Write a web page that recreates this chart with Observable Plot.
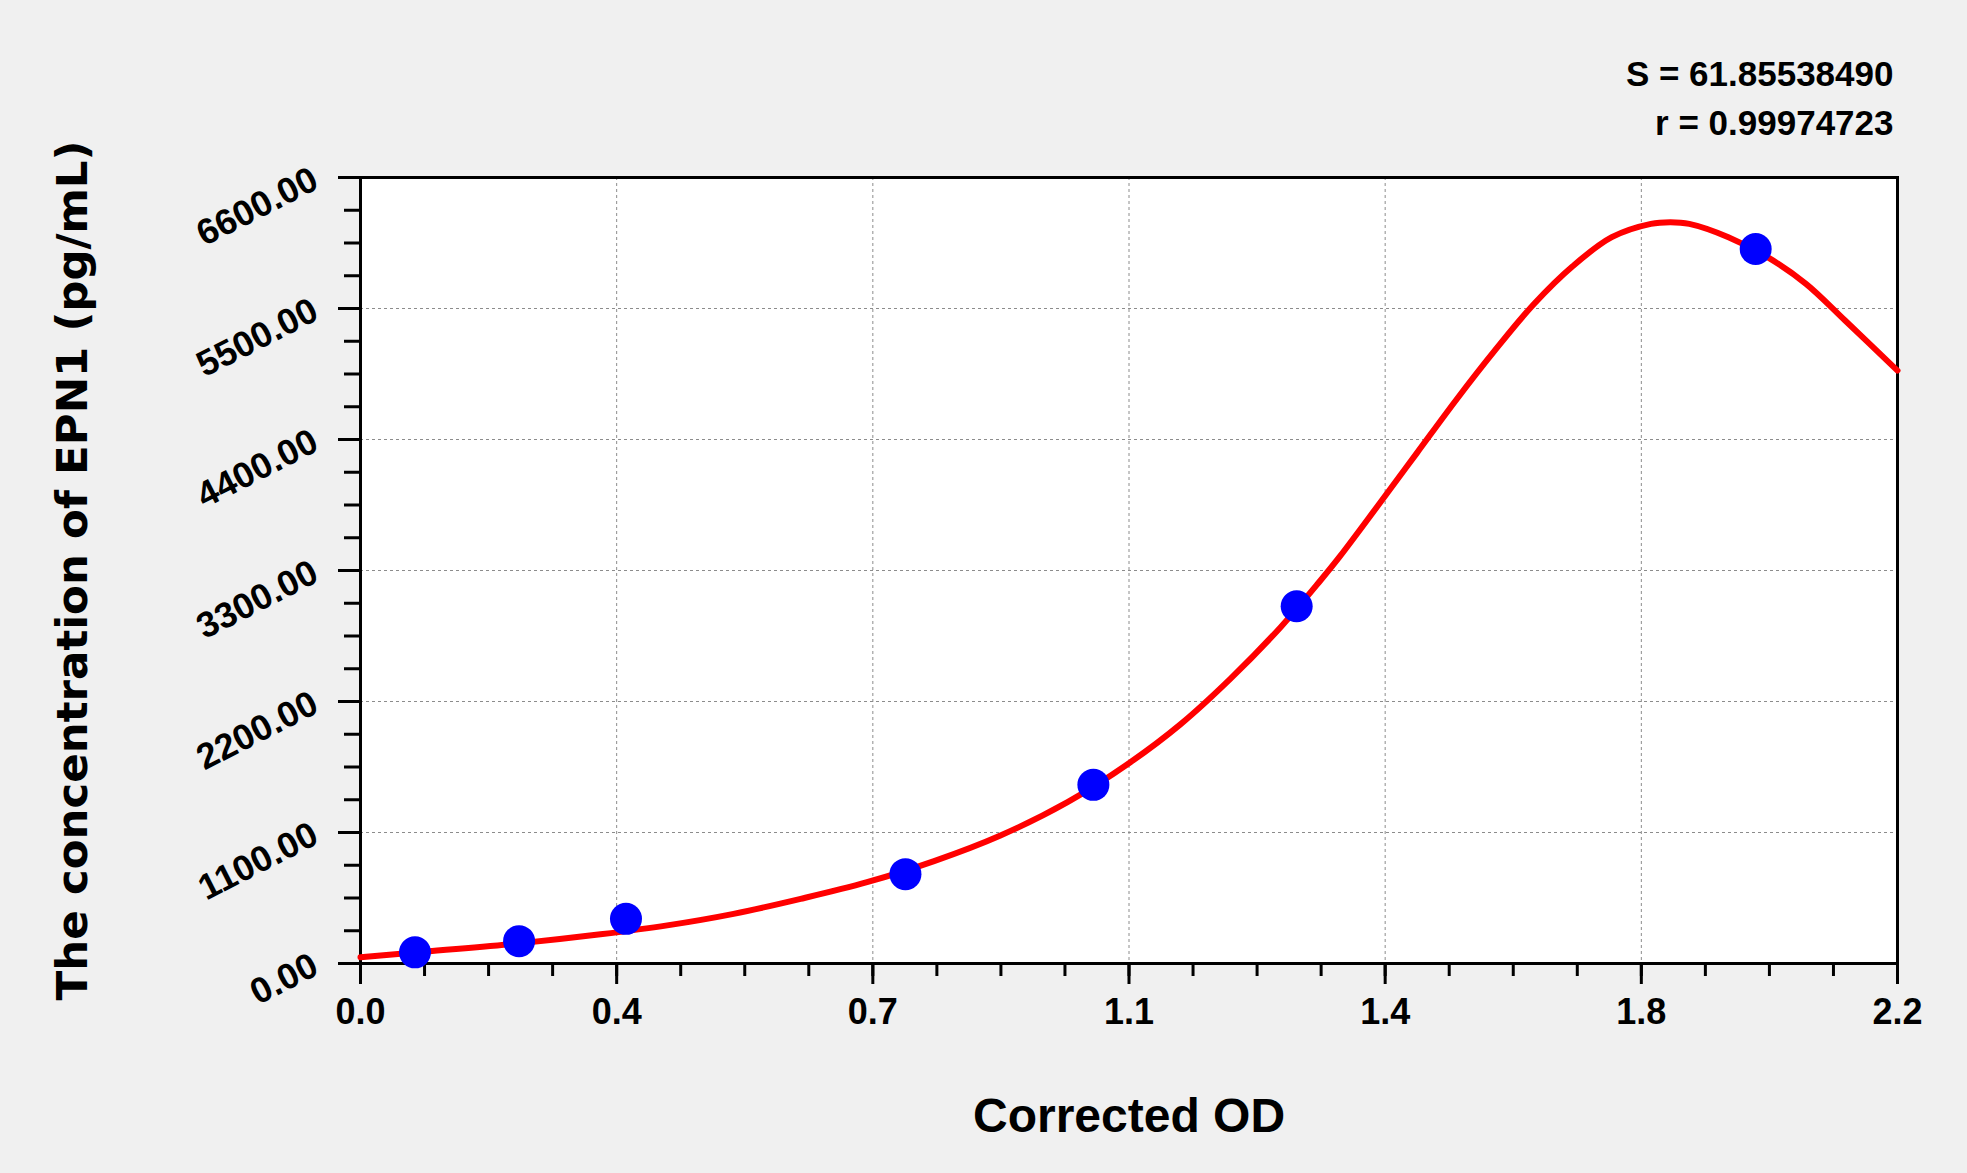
<!DOCTYPE html>
<html>
<head>
<meta charset="utf-8">
<script src="https://cdn.jsdelivr.net/npm/d3@7"></script>
<script src="https://cdn.jsdelivr.net/npm/@observablehq/plot@0.6"></script>
<style>
  html, body { margin: 0; padding: 0; background: #f0f0f0; }
  #chart svg { display: block; }
</style>
</head>
<body>
<div id="chart"></div>
<script>
// Standard points (Corrected OD vs concentration pg/mL)
const pointOD   = [0.078, 0.227, 0.380, 0.780, 1.049, 1.340, 1.997];
const pointConc = [93.75, 187.5, 375, 750, 1500, 3000, 6000];

// Fitted curve
const curveOD   = [0, 0.083, 0.23, 0.3435, 0.439, 0.534, 0.63, 0.725, 0.821, 0.916, 1.012, 1.102, 1.174, 1.245, 1.317, 1.374, 1.401, 1.457, 1.5125, 1.568, 1.624, 1.68, 1.735, 1.791, 1.847, 1.875, 1.902, 1.958, 2.014, 2.069, 2.125, 2.2];
const curveConc = [53, 95, 171, 245, 320, 417, 543, 683, 860, 1075, 1355, 1690, 2010, 2390, 2824, 3216, 3412, 3850, 4290, 4730, 5150, 5540, 5855, 6099, 6211, 6225, 6211, 6099, 5931, 5707, 5399, 4979];

// Axes
const xMajor  = [0, 0.36667, 0.73333, 1.1, 1.46667, 1.83333, 2.2];
const xLabels = ["0.0", "0.4", "0.7", "1.1", "1.4", "1.8", "2.2"];
const yMajor  = [0, 1100, 2200, 3300, 4400, 5500, 6600];
const yLabels = ["0.00", "1100.00", "2200.00", "3300.00", "4400.00", "5500.00", "6600.00"];
const xMinor  = d3.range(0, 25).map(i => i * 2.2 / 24);
const yMinor  = d3.range(0, 6601, 275);

const statLines = ["S = 61.85538490", "r = 0.99974723"];
const xTitle = "Corrected OD";
const yTitle = "The concentration of EPN1 (pg/mL)";

const points = pointOD.map((x, i) => ({x, y: pointConc[i]}));
const curve = curveOD.map((x, i) => ({x, y: curveConc[i]}));
const xLabelMap = new Map(xMajor.map((v, i) => [v, xLabels[i]]));
const yLabelRows = yMajor.map((v, i) => ({v, t: yLabels[i]}));

const FONT = "Liberation Sans, Arial, sans-serif";

const chart = Plot.plot({
  width: 1967,
  height: 1173,
  marginLeft: 360,
  marginRight: 70,
  marginTop: 177,
  marginBottom: 210,
  style: {background: "#f0f0f0", fontFamily: FONT, color: "black"},
  x: {domain: [0, 2.2], axis: null},
  y: {domain: [0, 6600], axis: null},
  marks: [
    Plot.frame({fill: "white", stroke: null}),
    Plot.gridX({ticks: xMajor.slice(1, -1), stroke: "#8c8c8c", strokeOpacity: 1, strokeWidth: 1, strokeDasharray: "3,3"}),
    Plot.gridY({ticks: yMajor.slice(1, -1), stroke: "#8c8c8c", strokeOpacity: 1, strokeWidth: 1, strokeDasharray: "3,3"}),
    // minor ticks
    Plot.axisX({ticks: xMinor, tickSize: 13, strokeWidth: 3, tickFormat: () => "", label: null}),
    Plot.axisY({ticks: yMinor, tickSize: 16, strokeWidth: 3, tickFormat: () => "", label: null}),
    // major ticks
    Plot.axisX({ticks: xMajor, tickSize: 21, strokeWidth: 3, tickPadding: 14, label: null,
      tickFormat: d => xLabelMap.get(d), fontSize: 36, fontWeight: "bold", fontFamily: FONT}),
    Plot.axisY({ticks: yMajor, tickSize: 22, strokeWidth: 3, tickFormat: () => "", label: null}),
    Plot.text(yLabelRows, {frameAnchor: "left", y: "v", text: "t", rotate: -27, textAnchor: "end",
      lineAnchor: "bottom", dx: -40, dy: 10, fontSize: 36, fontWeight: "bold", fontFamily: FONT, fill: "black"}),
    Plot.frame({stroke: "black", strokeWidth: 3}),
    Plot.line(curve, {x: "x", y: "y", stroke: "#ff0000", strokeWidth: 6, curve: "catmull-rom"}),
    Plot.dot(points, {x: "x", y: "y", r: 16, fill: "#0000ff", stroke: null}),
    // titles
    Plot.text([xTitle], {frameAnchor: "bottom", dy: 168, lineAnchor: "bottom", fontSize: 48,
      fontWeight: "bold", fontFamily: FONT, fill: "black"}),
    Plot.text([yTitle], {frameAnchor: "left", dx: -287, rotate: -90, textAnchor: "middle", lineAnchor: "middle", fontSize: 43.5,
      fontWeight: "bold", fontFamily: "DejaVu Sans, Verdana, sans-serif", fill: "black"}),
    Plot.text([statLines[0]], {frameAnchor: "top-right", dx: -4, dy: -92, textAnchor: "end", lineAnchor: "bottom",
      fontSize: 35, fontWeight: "bold", fontFamily: FONT, fill: "black"}),
    Plot.text([statLines[1]], {frameAnchor: "top-right", dx: -4, dy: -43, textAnchor: "end", lineAnchor: "bottom",
      fontSize: 35, fontWeight: "bold", fontFamily: FONT, fill: "black"})
  ]
});
document.getElementById("chart").appendChild(chart);
</script>
</body>
</html>
